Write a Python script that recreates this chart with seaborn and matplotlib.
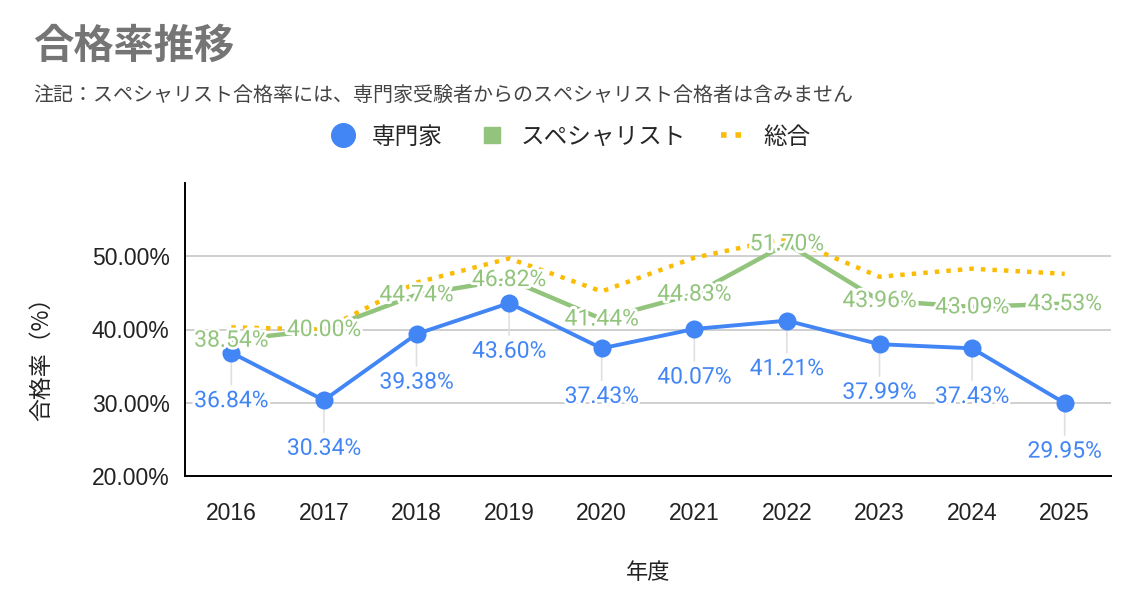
import numpy as np
import pandas as pd
import seaborn as sns
import matplotlib.pyplot as plt
import matplotlib.patheffects as pe
from matplotlib.lines import Line2D

# --- data ---
years = [2016, 2017, 2018, 2019, 2020, 2021, 2022, 2023, 2024, 2025]
senmonka = [36.84, 30.34, 39.38, 43.60, 37.43, 40.07, 41.21, 37.99, 37.43, 29.95]
specialist = [38.54, 40.00, 44.74, 46.82, 41.44, 44.83, 51.70, 43.96, 43.09, 43.53]
sougou = [40.3, 40.0, 46.4, 49.7, 45.2, 49.8, 52.5, 47.2, 48.3, 47.6]
ytick_vals = [20, 30, 40, 50]

BLUE = '#4285F4'
GREEN = '#93C47D'
YELLOW = '#FBBC04'

sns.set_style('white')
plt.rcParams['font.family'] = ['Roboto', 'Noto Sans CJK JP', 'DejaVu Sans']

df = pd.DataFrame({'年度': years, '専門家': senmonka,
                   'スペシャリスト': specialist, '総合': sougou})

fig = plt.figure(figsize=(11.42, 6.16), dpi=100)
ax = fig.add_axes([185 / 1142, 1 - 476 / 616, 926 / 1142, 293 / 616])

# lines
sns.lineplot(data=df, x='年度', y='スペシャリスト', ax=ax, color=GREEN,
             linewidth=3.2, zorder=3)
sns.lineplot(data=df, x='年度', y='総合', ax=ax, color=YELLOW,
             linewidth=3.2, linestyle=(0, (1, 1.6)), zorder=4)
sns.lineplot(data=df, x='年度', y='専門家', ax=ax, color=BLUE,
             linewidth=2.8, marker='o', markersize=13, markeredgewidth=0,
             zorder=5)

halo = [pe.withStroke(linewidth=4, foreground='white')]

# blue labels below points with leader lines
for x, v in zip(years, senmonka):
    ax.annotate('', xy=(x, v), xytext=(0, -32), textcoords='offset pixels',
                arrowprops=dict(arrowstyle='-', color='#e0e0e0', lw=1.2,
                                shrinkA=0, shrinkB=0), zorder=2)
    ax.annotate(f'{v:.2f}%', xy=(x, v), xytext=(0, -48),
                textcoords='offset pixels', ha='center', va='center',
                fontsize=16.5, color=BLUE, path_effects=halo, zorder=6)

# green labels centred on points
for x, v in zip(years, specialist):
    ax.annotate(f'{v:.2f}%', xy=(x, v), ha='center', va='center',
                fontsize=16.5, color=GREEN, path_effects=halo, zorder=6)

ax.set_xlim(2015.5, 2025.5)
ax.set_ylim(20, 60)
ax.set_xticks(years)
ax.set_xticklabels([str(y) for y in years])
ax.set_yticks(ytick_vals)
ax.set_yticklabels([f'{v:.2f}%' for v in ytick_vals])
ax.grid(axis='y', color='#cccccc', linewidth=1.3)
ax.grid(axis='x', visible=False)
ax.tick_params(axis='x', direction='inout', length=18, width=1.3,
               color='black', labelsize=16.5, labelcolor='#222222', pad=10)
ax.tick_params(axis='y', length=0, labelsize=16.5, labelcolor='#222222',
               pad=11)
for lab in ax.get_xticklabels() + ax.get_yticklabels():
    lab.set_family(['Liberation Sans', 'DejaVu Sans'])
for s in ['top', 'right']:
    ax.spines[s].set_visible(False)
for s in ['left', 'bottom']:
    ax.spines[s].set_color('black')
    ax.spines[s].set_linewidth(1.4)

ax.set_xlabel('年度', fontsize=16, color='#222222', family=['Noto Sans CJK JP'])
ax.xaxis.set_label_coords(0.5, -0.29)
ax.set_ylabel('合格率（%）', fontsize=16.5, color='#222222',
              family=['Noto Sans CJK JP'])
ax.yaxis.set_label_coords(-0.143, 0.42)

fig.text(33 / 1142, 1 - 46 / 616, '合格率推移', fontsize=29, fontweight='bold',
         color='#757575', va='center', ha='left',
         family=['Noto Sans CJK JP'])
fig.text(33 / 1142, 1 - 95 / 616,
         '注記：スペシャリスト合格率には、専門家受験者からのスペシャリスト合格者は含みません',
         fontsize=14.4, color='#444444', va='center', ha='left',
         family=['Noto Sans CJK JP'])

handles = [
    Line2D([], [], color=BLUE, marker='o', linestyle='none', markersize=17),
    Line2D([], [], color=GREEN, marker='s', linestyle='none', markersize=12),
    Line2D([], [], color=YELLOW, linestyle=(0, (1, 1.6)), linewidth=4),
]
fig.legend(handles, ['専門家', 'スペシャリスト', '総合'], loc='center',
           bbox_to_anchor=(570 / 1142, 1 - 137 / 616), ncol=3, frameon=False,
           prop={'family': 'Noto Sans CJK JP', 'size': 17},
           handlelength=1.2, columnspacing=1.5, handletextpad=0.6)

fig.savefig('out.png', dpi=100)
